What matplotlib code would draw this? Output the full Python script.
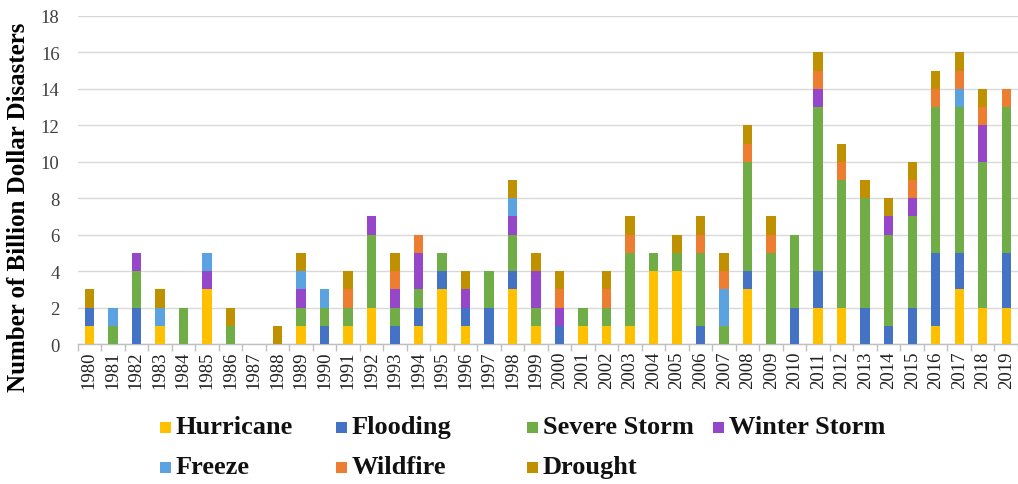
import matplotlib
matplotlib.use("Agg")
import matplotlib.pyplot as plt
import numpy as np
from matplotlib.patches import Rectangle

years = list(range(1980, 2020))
hurricane    = [1,0,0,1,0,3,0,0,0,1, 0,1,2,0,1,3,1,0,3,1, 0,1,1,1,4,4,0,0,3,0, 0,2,2,0,0,0,1,3,2,2]
flooding     = [1,0,2,0,0,0,0,0,0,0, 1,0,0,1,1,1,1,2,1,0, 1,0,0,0,0,0,1,0,1,0, 2,2,0,2,1,2,4,2,0,3]
severe_storm = [0,1,2,0,2,0,1,0,0,1, 1,1,4,1,1,1,0,2,2,1, 0,1,1,4,1,1,4,1,6,5, 4,9,7,6,5,5,8,8,8,8]
winter_storm = [0,0,1,0,0,1,0,0,0,1, 0,0,1,1,2,0,1,0,1,2, 1,0,0,0,0,0,0,0,0,0, 0,1,0,0,1,1,0,0,2,0]
freeze       = [0,1,0,1,0,1,0,0,0,1, 1,0,0,0,0,0,0,0,1,0, 0,0,0,0,0,0,0,2,0,0, 0,0,0,0,0,0,0,1,0,0]
wildfire     = [0,0,0,0,0,0,0,0,0,0, 0,1,0,1,1,0,0,0,0,0, 1,0,1,1,0,0,1,1,1,1, 0,1,1,0,0,1,1,1,1,1]
drought      = [1,0,0,1,0,0,1,0,1,1, 0,1,0,1,0,0,1,0,1,1, 1,0,1,1,0,1,1,1,1,1, 0,1,1,1,1,1,1,1,1,0]

series_names = ["Hurricane", "Flooding", "Severe Storm", "Winter Storm",
                "Freeze", "Wildfire", "Drought"]
series_vals = [hurricane, flooding, severe_storm, winter_storm, freeze, wildfire, drought]
colors = ["#FFC000", "#4472C4", "#70AD47", "#9546C9", "#5BA3E0", "#ED7D31", "#BF9000"]

serif = ["Liberation Serif", "DejaVu Serif"]

W, H = 1018, 485
fig = plt.figure(figsize=(W/100, H/100), dpi=100)
ax_left = 77.6 / W
ax_bottom = 1 - 345 / H
ax_top = 1 - 17 / H
ax = fig.add_axes([ax_left, ax_bottom, 1 - ax_left, ax_top - ax_bottom])

x = np.arange(len(years))
bottom = np.zeros(len(years))
for name, vals, c in zip(series_names, series_vals, colors):
    v = np.array(vals, dtype=float)
    ax.bar(x, v, bottom=bottom, width=0.4, color=c, label=name, zorder=3)
    bottom += v

ax.set_xlim(-0.5, 39.11)
ax.set_ylim(0, 18)
ax.set_yticks(range(0, 19, 2))
ax.yaxis.grid(True, color="#D9D9D9", linewidth=1.0, zorder=0)
ax.tick_params(axis="y", length=0, labelsize=13.5, labelcolor="#404040", pad=13)
for lab in ax.get_yticklabels():
    lab.set_family(serif)

ax.set_xticks(x)
ax.set_xticklabels([str(y) for y in years], rotation=90, fontsize=13.5,
                   family=serif, color="#202020")
ax.tick_params(axis="x", length=0, pad=5)
ax.set_xticks(np.arange(-0.5, 39.6, 1), minor=True)
ax.tick_params(axis="x", which="minor", length=5, color="#BFBFBF", width=1)

for s in ["top", "right", "left"]:
    ax.spines[s].set_visible(False)
ax.spines["bottom"].set_color("#BFBFBF")
ax.spines["bottom"].set_linewidth(1.0)

ax.set_ylabel("Number of Billion Dollar Disasters", family=serif, fontweight="bold",
              fontsize=18, va="center")
ax.yaxis.set_label_coords(-0.0625, 0.42)

# legend drawn manually
legend_pos = [(160, 428), (336, 428), (527, 428), (713, 428),
              (160, 468), (336, 468), (527, 468)]
sq = 11
for (px, py), name, c in zip(legend_pos, series_names, colors):
    fig.patches.append(Rectangle(((px) / W, 1 - (py + sq/2) / H), sq / W, sq / H,
                                 transform=fig.transFigure, facecolor=c, edgecolor="none"))
    fig.text((px + sq + 5) / W, 1 - py / H, name, family=serif, fontweight="bold",
             fontsize=19, va="center", ha="left", color="#111111")

fig.savefig("out.png", dpi=100)
